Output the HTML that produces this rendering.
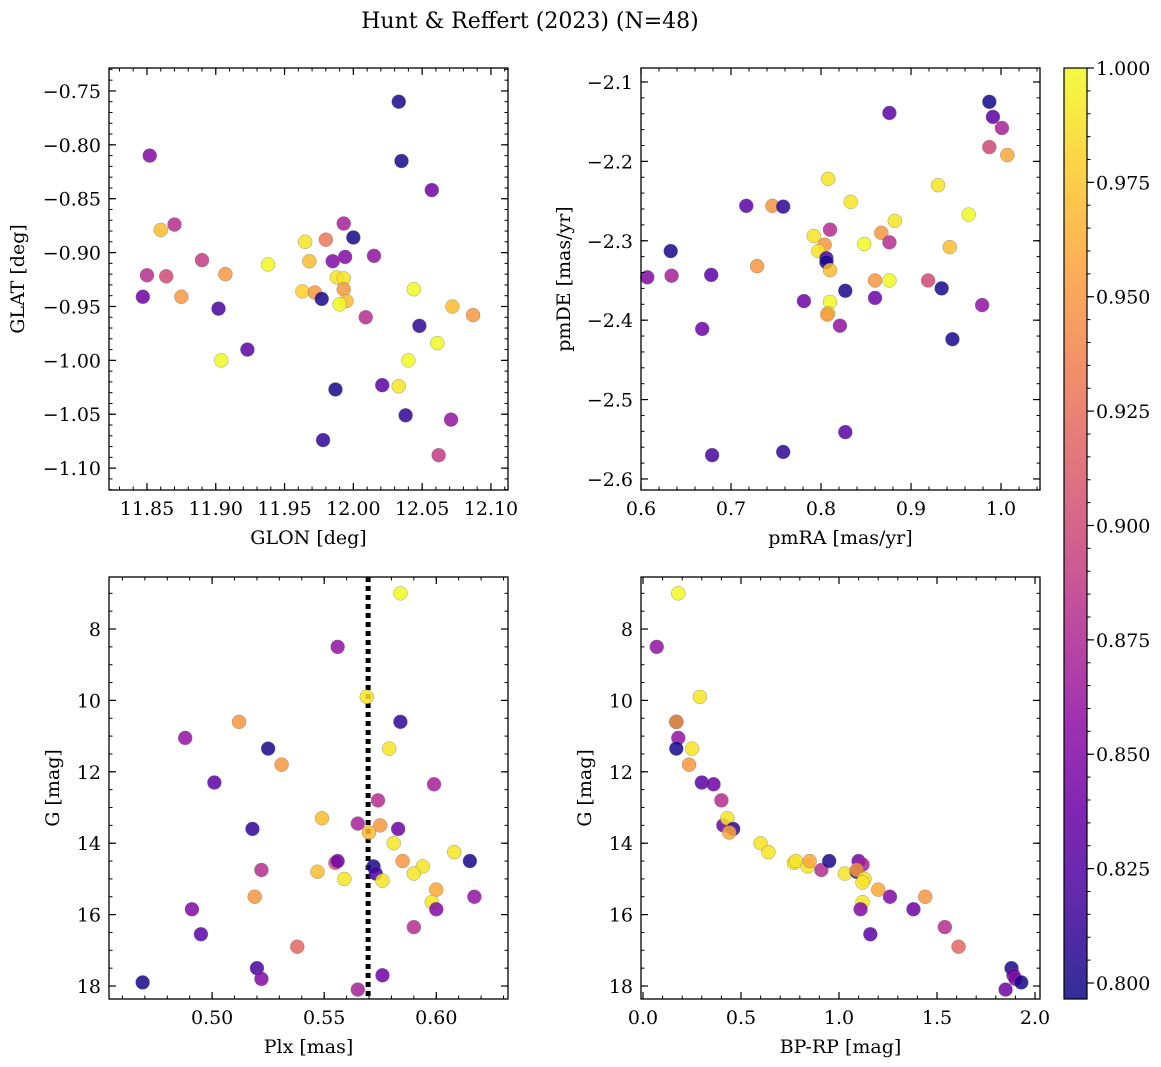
<!DOCTYPE html>
<html><head><meta charset="utf-8">
<style>
body{margin:0;background:#fff;}
svg{display:block;font-family:"DejaVu Serif","Liberation Serif",serif;}
</style></head>
<body>
<svg id="fig" width="1161" height="1067" viewBox="0 0 1161 1067" xmlns="http://www.w3.org/2000/svg">
<text x="530" y="28" text-anchor="middle" font-size="22">Hunt &amp; Reffert (2023) (N=48)</text>
</svg>
<script>
// Panel 1: GLON / GLAT
const p1Glon=[12.033,11.852,12.035,12.057,11.86,11.87,11.993,12.0,11.98,11.965,11.89,11.907,11.85,11.864,11.938,11.968,11.985,11.994,12.015,11.988,11.993,11.963,11.972,11.977,11.993,11.995,11.99,11.875,11.847,11.902,12.044,12.009,12.072,12.087,12.048,12.061,11.904,11.923,12.04,12.033,12.021,11.987,12.038,12.071,11.978,12.062];
const p1Glat=[-0.76,-0.81,-0.815,-0.842,-0.879,-0.874,-0.873,-0.886,-0.888,-0.89,-0.907,-0.92,-0.921,-0.922,-0.911,-0.908,-0.908,-0.904,-0.903,-0.923,-0.924,-0.936,-0.937,-0.943,-0.934,-0.945,-0.948,-0.941,-0.941,-0.952,-0.934,-0.96,-0.95,-0.958,-0.968,-0.984,-1.0,-0.99,-1.0,-1.024,-1.023,-1.027,-1.051,-1.055,-1.074,-1.088];
const p1Prob=[0.80,0.85,0.80,0.84,0.97,0.88,0.87,0.80,0.93,0.99,0.89,0.95,0.88,0.90,1.0,0.97,0.85,0.85,0.86,0.99,0.99,0.98,0.95,0.80,0.95,0.97,1.0,0.95,0.84,0.82,1.0,0.88,0.97,0.95,0.81,1.0,1.0,0.83,1.0,0.99,0.83,0.80,0.81,0.86,0.81,0.89];
// Panel 2: pmRA / pmDE
const p2Pmra=[0.987,0.876,0.991,1.001,0.987,1.007,0.808,0.93,0.833,0.717,0.746,0.758,0.964,0.882,0.792,0.867,0.81,0.876,0.848,0.804,0.633,0.797,0.806,0.806,0.943,0.729,0.81,0.634,0.678,0.607,0.86,0.876,0.919,0.827,0.934,0.781,0.86,0.81,0.979,0.808,0.807,0.821,0.668,0.946,0.827,0.758,0.679];
const p2Pmde=[-2.125,-2.139,-2.144,-2.158,-2.182,-2.192,-2.222,-2.23,-2.251,-2.256,-2.256,-2.257,-2.267,-2.275,-2.294,-2.29,-2.286,-2.302,-2.304,-2.305,-2.313,-2.313,-2.322,-2.327,-2.308,-2.332,-2.337,-2.344,-2.343,-2.346,-2.35,-2.35,-2.35,-2.363,-2.36,-2.376,-2.372,-2.377,-2.381,-2.391,-2.393,-2.407,-2.411,-2.424,-2.541,-2.566,-2.57];
const p2Prob=[0.80,0.83,0.83,0.87,0.90,0.96,0.99,0.99,0.99,0.83,0.95,0.81,1.0,0.99,0.99,0.95,0.88,0.88,1.0,0.95,0.80,0.99,0.82,0.80,0.97,0.95,0.97,0.87,0.83,0.85,0.95,1.0,0.90,0.80,0.80,0.84,0.84,1.0,0.86,0.99,0.95,0.86,0.84,0.80,0.83,0.81,0.82];
// Panel 3: Plx / G
const p3Plx=[0.584,0.556,0.569,0.584,0.512,0.488,0.579,0.525,0.531,0.501,0.599,0.574,0.518,0.549,0.565,0.575,0.570,0.583,0.581,0.608,0.555,0.556,0.585,0.572,0.615,0.594,0.573,0.522,0.547,0.59,0.559,0.576,0.60,0.519,0.617,0.598,0.491,0.60,0.59,0.495,0.538,0.52,0.522,0.576,0.469,0.565];
const p3G=[7.0,8.5,9.9,10.6,10.6,11.05,11.35,11.35,11.8,12.3,12.35,12.8,13.6,13.3,13.45,13.5,13.7,13.6,14.0,14.25,14.55,14.5,14.5,14.65,14.5,14.65,14.85,14.75,14.8,14.85,15.0,15.05,15.3,15.5,15.5,15.65,15.85,15.85,16.35,16.55,16.9,17.5,17.8,17.7,17.9,18.1];
const p3Prob=[1.0,0.86,0.99,0.81,0.95,0.86,0.99,0.80,0.95,0.83,0.87,0.88,0.81,0.97,0.87,0.95,0.97,0.84,0.99,0.99,0.90,0.84,0.95,0.80,0.80,0.99,0.82,0.88,0.97,0.99,0.99,0.99,0.96,0.95,0.86,0.99,0.85,0.85,0.88,0.83,0.92,0.82,0.85,0.84,0.80,0.87];
const plxLine=0.5696;
// Panel 4: BP-RP / G
const p4Bprp=[0.18,0.07,0.29,0.17,0.17,0.18,0.25,0.17,0.235,0.30,0.36,0.40,0.41,0.43,0.46,0.44,0.60,0.64,0.77,0.78,0.84,0.85,0.91,0.95,1.03,1.10,1.12,1.09,1.09,1.13,1.12,1.20,1.26,1.12,1.11,1.38,1.44,1.54,1.16,1.61,1.88,1.89,1.90,1.93,1.85];
const p4G=[7.0,8.5,9.9,10.6,10.6,11.05,11.35,11.35,11.8,12.3,12.35,12.8,13.5,13.3,13.6,13.7,14.0,14.25,14.55,14.5,14.65,14.5,14.75,14.5,14.85,14.5,14.6,14.8,14.75,15.0,15.1,15.3,15.5,15.65,15.85,15.85,15.5,16.35,16.55,16.9,17.5,17.7,17.8,17.9,18.1];
const p4Prob=[1.0,0.86,0.99,0.80,0.95,0.86,0.99,0.80,0.95,0.83,0.84,0.88,0.84,0.99,0.81,0.96,0.99,0.99,0.99,0.99,0.99,0.96,0.88,0.80,0.99,0.84,0.87,0.80,0.95,0.99,0.99,0.96,0.85,0.99,0.85,0.84,0.95,0.88,0.83,0.92,0.80,0.84,0.85,0.80,0.84];
const cbTicks=[0.800,0.825,0.850,0.875,0.900,0.925,0.950,0.975,1.000];
const vmin=0.7965, vmax=1.0;

const FS=19;
const NS="http://www.w3.org/2000/svg";
const svg=document.getElementById('fig');
function mk(tag,attrs,parent){const e=document.createElementNS(NS,tag);for(const k in attrs)e.setAttribute(k,attrs[k]);(parent||svg).appendChild(e);return e;}
const stops=[[13,8,135],[65,4,157],[106,0,168],[143,13,164],[177,42,144],[204,71,120],[225,100,98],[242,132,75],[252,166,54],[252,206,37],[240,249,33]];
function plasma(t){t=Math.max(0,Math.min(1,t));const f=t*10,i=Math.min(9,Math.floor(f)),r=f-i;const a=stops[i],b=stops[i+1];return 'rgb('+a.map((v,k)=>Math.round(v+(b[k]-v)*r)).join(',')+')';}
function cmap(v){return plasma((v-vmin)/(vmax-vmin));}

function panel(o){
  const {x0,y0,x1,y1,xmin,xmax,ymin,ymax,invertY}=o;
  const sx=v=>x0+(v-xmin)/(xmax-xmin)*(x1-x0);
  const sy=v=>invertY? y0+(v-ymin)/(ymax-ymin)*(y1-y0) : y1-(v-ymin)/(ymax-ymin)*(y1-y0);
  const g=mk('g',{});
  
  
  if(o.vline!==undefined){
    const l=mk('line',{x1:sx(o.vline),x2:sx(o.vline),y1:y0,y2:y1,stroke:'#000','stroke-width':5,'stroke-dasharray':'5,4'},g);
    
    
  }
  for(let i=0;i<o.xs.length;i++){
    const c=mk('circle',{cx:sx(o.xs[i]),cy:sy(o.ys[i]),r:7,fill:cmap(o.cs[i]),'fill-opacity':0.85,stroke:'#777','stroke-width':0.5,'stroke-opacity':0.7},g);
    
    
  }
  const fr=mk('rect',{x:x0,y:y0,width:x1-x0,height:y1-y0,fill:'none',stroke:'#000','stroke-width':1.3},g);
  
  
  const eps=1e-9;
  function ticks(step){const a=[];let s=Math.ceil(Math.min(xmin,xmax)/step-eps);for(let v=s*step;v<=Math.max(xmin,xmax)+eps;v=(++s)*step)a.push(v);return a;}
  function ticksY(step){const lo=Math.min(ymin,ymax),hi=Math.max(ymin,ymax);const a=[];let s=Math.ceil(lo/step-eps);for(let v=s*step;v<=hi+eps;v=(++s)*step)a.push(v);return a;}
  ticks(o.xminor).forEach(v=>{const x=sx(v);mk('line',{x1:x,x2:x,y1:y1,y2:y1-3.5,stroke:'#000'},g);mk('line',{x1:x,x2:x,y1:y0,y2:y0+3.5,stroke:'#000'},g);});
  ticksY(o.yminor).forEach(v=>{const y=sy(v);mk('line',{x1:x0,x2:x0+3.5,y1:y,y2:y,stroke:'#000'},g);mk('line',{x1:x1,x2:x1-3.5,y1:y,y2:y,stroke:'#000'},g);});
  o.xt.forEach(v=>{const x=sx(v);mk('line',{x1:x,x2:x,y1:y1,y2:y1-7,stroke:'#000','stroke-width':1.2},g);mk('line',{x1:x,x2:x,y1:y0,y2:y0+7,stroke:'#000','stroke-width':1.2},g);
    const t=mk('text',{x:x,y:y1+25,'text-anchor':'middle','font-size':FS},g);t.textContent=v.toFixed(o.xd).replace('-','\u2212');
    });
  o.yt.forEach(v=>{const y=sy(v);mk('line',{x1:x0,x2:x0+7,y1:y,y2:y,stroke:'#000','stroke-width':1.2},g);mk('line',{x1:x1,x2:x1-7,y1:y,y2:y,stroke:'#000','stroke-width':1.2},g);
    const t=mk('text',{x:x0-8,y:y+7,'text-anchor':'end','font-size':FS},g);t.textContent=v.toFixed(o.yd).replace('-','\u2212');
    });
  const xl=mk('text',{x:(x0+x1)/2,y:y1+54,'text-anchor':'middle','font-size':FS},g);xl.textContent=o.xlabel;
  
  const yc=(y0+y1)/2;const yl=mk('text',{x:o.ylx,y:yc,'text-anchor':'middle','font-size':FS,transform:'rotate(-90 '+o.ylx+' '+yc+')'},g);yl.textContent=o.ylabel;
  
}
panel({name:'glon-glat-panel',x0:109,y0:68,x1:508,y1:490,xmin:11.8224,xmax:12.1124,ymin:-1.1203,ymax:-0.7287,xs:p1Glon,ys:p1Glat,cs:p1Prob,
  xt:[11.85,11.90,11.95,12.00,12.05,12.10],xd:2,xminor:0.01,yt:[-0.75,-0.80,-0.85,-0.90,-0.95,-1.00,-1.05,-1.10],yd:2,yminor:0.01,xlabel:'GLON [deg]',ylabel:'GLAT [deg]',ylx:24});
panel({name:'proper-motion-panel',x0:641,y0:68,x1:1040,y1:490,xmin:0.6,xmax:1.0433,ymin:-2.6139,ymax:-2.0824,xs:p2Pmra,ys:p2Pmde,cs:p2Prob,
  xt:[0.6,0.7,0.8,0.9,1.0],xd:1,xminor:0.02,yt:[-2.1,-2.2,-2.3,-2.4,-2.5,-2.6],yd:1,yminor:0.02,xlabel:'pmRA [mas/yr]',ylabel:'pmDE [mas/yr]',ylx:570});
panel({name:'parallax-magnitude-panel',x0:109,y0:577,x1:508,y1:999,xmin:0.454,xmax:0.632,ymin:6.543,ymax:18.364,invertY:true,xs:p3Plx,ys:p3G,cs:p3Prob,vline:plxLine,
  xt:[0.50,0.55,0.60],xd:2,xminor:0.01,yt:[8,10,12,14,16,18],yd:0,yminor:0.5,xlabel:'Plx [mas]',ylabel:'G [mag]',ylx:59});
panel({name:'color-magnitude-panel',x0:641,y0:577,x1:1040,y1:999,xmin:-0.0102,xmax:2.0255,ymin:6.543,ymax:18.364,invertY:true,xs:p4Bprp,ys:p4G,cs:p4Prob,
  xt:[0.0,0.5,1.0,1.5,2.0],xd:1,xminor:0.1,yt:[8,10,12,14,16,18],yd:0,yminor:0.5,xlabel:'BP-RP [mag]',ylabel:'G [mag]',ylx:591});

// Colorbar
const cb=mk('g',{});


const cbx=1064,cbw=23,cbTop=68,cbBot=999;
const defs=mk('defs',{},cb);const lg=mk('linearGradient',{id:'cbg',x1:0,y1:1,x2:0,y2:0},defs);
for(let i=0;i<=20;i++){mk('stop',{offset:i/20,'stop-color':plasma(i/20),'stop-opacity':0.85},lg);}
mk('rect',{x:cbx,y:cbTop,width:cbw,height:cbBot-cbTop,fill:'url(#cbg)',stroke:'#000','stroke-width':1.2},cb);
const cy=v=>cbBot-(v-vmin)/(vmax-vmin)*(cbBot-cbTop);
for(let k=Math.ceil(vmin/0.005);k*0.005<=vmax+1e-9;k++){const y=cy(k*0.005);mk('line',{x1:cbx+cbw,x2:cbx+cbw+3.5,y1:y,y2:y,stroke:'#000'},cb);}
cbTicks.forEach(v=>{const y=cy(v);mk('line',{x1:cbx+cbw,x2:cbx+cbw+7,y1:y,y2:y,stroke:'#000','stroke-width':1.2},cb);
  const t=mk('text',{x:cbx+cbw+9,y:y+7,'font-size':FS},cb);t.textContent=v.toFixed(3);
  });
</script>
</body></html>
